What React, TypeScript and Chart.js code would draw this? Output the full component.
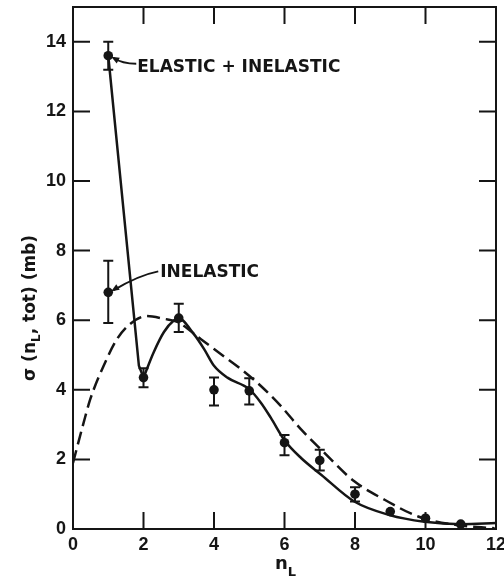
import React, { useEffect, useRef } from "react";
import { Chart, registerables } from "chart.js";

Chart.register(...registerables);

// measured points (inelastic, n_L = 1..11)
const nL = [1, 2, 3, 4, 5, 6, 7, 8, 9, 10, 11];
const sigmaInel = [6.8, 4.35, 6.06, 4.0, 3.97, 2.48, 1.97, 1.0, 0.5, 0.31, 0.14];
const sigmaInelLow = [5.92, 4.07, 5.66, 3.55, 3.58, 2.12, 1.68, 0.79, null, null, null];
const sigmaInelHigh = [7.71, 4.62, 6.47, 4.35, 4.33, 2.7, 2.28, 1.2, null, null, null];

// elastic + inelastic point at n_L = 1
const nLElastic = [1];
const sigmaElInel = [13.6];
const sigmaElInelLow = [13.2];
const sigmaElInelHigh = [14.0];

// solid curve (straight drop, then smooth part)
const solidDropX = [1, 1.87, 2];
const solidDropY = [13.6, 4.69, 4.35];
const solidX = [2, 2.29, 2.58, 2.86, 3, 3.43, 3.72, 4.0, 4.38, 5.0, 5.33, 5.61, 6, 6.47, 7.04, 7.98, 8.98, 9.97, 11.02, 12];
const solidY = [4.35, 5.08, 5.66, 5.99, 6.05, 5.6, 5.17, 4.69, 4.35, 4.02, 3.63, 3.2, 2.55, 2.04, 1.56, 0.79, 0.4, 0.21, 0.14, 0.17];

// dashed curve
const dashX = [0, 0.3, 0.49, 0.87, 1.25, 1.63, 2.1, 2.58, 2.96, 3.62, 4.19, 4.76, 5.33, 5.9, 6.47, 7.04, 7.98, 8.84, 9.79, 10.83, 11.96];
const dashY = [1.9, 3.05, 3.73, 4.69, 5.46, 5.9, 6.12, 6.04, 5.95, 5.46, 5.03, 4.6, 4.11, 3.53, 2.86, 2.28, 1.37, 0.84, 0.36, 0.12, 0.02];

// ticks
const xTicks = [0, 2, 4, 6, 8, 10, 12];
const yTicks = [0, 2, 4, 6, 8, 10, 12, 14];

const INK = "#151515";
const FONT = "'DejaVu Sans', sans-serif";
const TICK_FONT = "'Liberation Sans', Arial, sans-serif";

const zip = (xs: number[], ys: (number | null)[]) => xs.map((v, i) => ({ x: v, y: ys[i] as number }));

const decorPlugin = {
  id: "decor",
  afterDatasetsDraw(chart: any) {
    const { ctx, chartArea: a, scales } = chart;
    const x = scales.x;
    const y = scales.y;
    ctx.save();
    ctx.strokeStyle = INK;
    ctx.fillStyle = INK;
    ctx.lineWidth = 2;
    ctx.lineCap = "butt";

    // error bars
    const bars = (xs: number[], lo: (number | null)[], hi: (number | null)[]) => {
      xs.forEach((v, i) => {
        if (lo[i] == null || hi[i] == null) return;
        const px = x.getPixelForValue(v);
        const p1 = y.getPixelForValue(lo[i]);
        const p2 = y.getPixelForValue(hi[i]);
        ctx.beginPath();
        ctx.moveTo(px, p1);
        ctx.lineTo(px, p2);
        ctx.moveTo(px - 5, p1);
        ctx.lineTo(px + 5, p1);
        ctx.moveTo(px - 5, p2);
        ctx.lineTo(px + 5, p2);
        ctx.stroke();
      });
    };
    bars(nL, sigmaInelLow, sigmaInelHigh);
    bars(nLElastic, sigmaElInelLow, sigmaElInelHigh);

    // frame
    ctx.strokeRect(a.left, a.top, a.right - a.left, a.bottom - a.top);

    // inward ticks on all four sides
    const TL = 17;
    ctx.beginPath();
    xTicks.forEach((v) => {
      if (v === xTicks[0] || v === xTicks[xTicks.length - 1]) return;
      const px = x.getPixelForValue(v);
      ctx.moveTo(px, a.bottom);
      ctx.lineTo(px, a.bottom - TL);
      ctx.moveTo(px, a.top);
      ctx.lineTo(px, a.top + TL);
    });
    yTicks.forEach((v) => {
      if (v === 0) return;
      const py = y.getPixelForValue(v);
      ctx.moveTo(a.left, py);
      ctx.lineTo(a.left + TL, py);
      ctx.moveTo(a.right, py);
      ctx.lineTo(a.right - TL, py);
    });
    ctx.stroke();

    // annotations
    ctx.font = `bold 17px ${FONT}`;
    ctx.textBaseline = "middle";
    ctx.textAlign = "left";
    const arrowHead = (tx: number, ty: number, fx: number, fy: number) => {
      const ang = Math.atan2(ty - fy, tx - fx);
      const L = 8;
      const W = 3.2;
      ctx.beginPath();
      ctx.moveTo(tx, ty);
      ctx.lineTo(tx - L * Math.cos(ang) + W * Math.sin(ang), ty - L * Math.sin(ang) - W * Math.cos(ang));
      ctx.lineTo(tx - L * Math.cos(ang) - W * Math.sin(ang), ty - L * Math.sin(ang) + W * Math.cos(ang));
      ctx.closePath();
      ctx.fill();
    };

    // ELASTIC + INELASTIC
    {
      const px = x.getPixelForValue(nLElastic[0]);
      const py = y.getPixelForValue(sigmaElInel[0]);
      ctx.fillText("ELASTIC + INELASTIC", px + 29, py + 12);
      ctx.beginPath();
      ctx.moveTo(px + 28, py + 8);
      ctx.quadraticCurveTo(px + 14, py + 8, px + 5, py + 2);
      ctx.stroke();
      arrowHead(px + 3, py + 1, px + 12, py + 6);
    }
    // INELASTIC
    {
      const px = x.getPixelForValue(nL[0]);
      const py = y.getPixelForValue(sigmaInel[0]);
      ctx.fillText("INELASTIC", px + 52, py - 20);
      ctx.beginPath();
      ctx.moveTo(px + 50, py - 21);
      ctx.quadraticCurveTo(px + 30, py - 17, px + 5, py - 2);
      ctx.stroke();
      arrowHead(px + 3, py - 1, px + 14, py - 8);
    }

    // x-axis title: n_L
    ctx.textBaseline = "alphabetic";
    ctx.font = `bold 18px ${FONT}`;
    const cx = (a.left + a.right) / 2;
    const nW = ctx.measureText("n").width;
    ctx.font = `bold 13px ${FONT}`;
    const lW = ctx.measureText("L").width;
    const startX = cx - (nW + lW) / 2 + 1;
    ctx.font = `bold 18px ${FONT}`;
    ctx.fillText("n", startX, 569);
    ctx.font = `bold 13px ${FONT}`;
    ctx.fillText("L", startX + nW, 576);

    // y-axis title: σ(n_L, tot) (mb)
    const parts: [string, number, number][] = [
      ["σ (n", 17, 0],
      ["L", 12, 5],
      [", tot) (mb)", 17, 0],
    ];
    let total = 0;
    const widths = parts.map(([t, s]) => {
      ctx.font = `bold ${s}px ${FONT}`;
      const w = ctx.measureText(t).width;
      total += w;
      return w;
    });
    ctx.translate(35, 308);
    ctx.rotate(-Math.PI / 2);
    let cur = -total / 2;
    parts.forEach(([t, s, off], i) => {
      ctx.font = `bold ${s}px ${FONT}`;
      ctx.fillText(t, cur, off);
      cur += widths[i];
    });

    ctx.restore();
  },
};

export default function App() {
  const ref = useRef<HTMLCanvasElement | null>(null);

  useEffect(() => {
    if (!ref.current) return;
    const lineBase = {
      type: "line" as const,
      showLine: true,
      pointRadius: 0,
      pointHoverRadius: 0,
      borderColor: INK,
      borderWidth: 2.5,
      fill: false,
    };
    const chart = new Chart(ref.current, {
      type: "scatter",
      data: {
        datasets: [
          { ...lineBase, label: "dashed", data: zip(dashX, dashY), borderDash: [13, 6], tension: 0.4, cubicInterpolationMode: "monotone" } as any,
          { ...lineBase, label: "solid drop", data: zip(solidDropX, solidDropY), tension: 0 } as any,
          { ...lineBase, label: "solid", data: zip(solidX, solidY), tension: 0.4, cubicInterpolationMode: "monotone" } as any,
          {
            label: "inelastic",
            data: zip(nL, sigmaInel),
            pointRadius: 4.8,
            pointBackgroundColor: INK,
            pointBorderColor: INK,
            pointBorderWidth: 0,
          },
          {
            label: "elastic+inelastic",
            data: zip(nLElastic, sigmaElInel),
            pointRadius: 4.8,
            pointBackgroundColor: INK,
            pointBorderColor: INK,
            pointBorderWidth: 0,
          },
        ],
      },
      options: {
        animation: false,
        responsive: true,
        maintainAspectRatio: false,
        layout: { padding: { left: 0, right: 8, top: 7, bottom: 0 } },
        plugins: { legend: { display: false }, tooltip: { enabled: false } },
        events: [],
        scales: {
          x: {
            type: "linear",
            min: 0,
            max: 12,
            grid: { display: false, drawTicks: false },
            border: { display: false },
            afterBuildTicks: (s: any) => {
              s.ticks = xTicks.map((v) => ({ value: v }));
            },
            afterFit: (s: any) => {
              s.height = 48;
              s.paddingLeft = 0;
              s.paddingRight = 0;
            },
            ticks: {
              padding: 5,
              color: INK,
              font: { family: TICK_FONT, size: 18, weight: "bold" },
              callback: (v: any) => String(v),
            },
          },
          y: {
            type: "linear",
            min: 0,
            max: 15,
            grid: { display: false, drawTicks: false },
            border: { display: false },
            afterBuildTicks: (s: any) => {
              s.ticks = yTicks.map((v) => ({ value: v }));
            },
            afterFit: (s: any) => {
              s.width = 73;
              s.paddingTop = 0;
              s.paddingBottom = 0;
            },
            ticks: {
              padding: 7,
              color: INK,
              font: { family: TICK_FONT, size: 18, weight: "bold" },
              callback: (v: any) => String(v),
            },
          },
        },
      } as any,
      plugins: [decorPlugin],
    });
    return () => chart.destroy();
  }, []);

  return (
    <div style={{ position: "absolute", left: 0, top: 0, width: 504, height: 577, background: "#fff" }}>
      <canvas ref={ref} />
    </div>
  );
}
